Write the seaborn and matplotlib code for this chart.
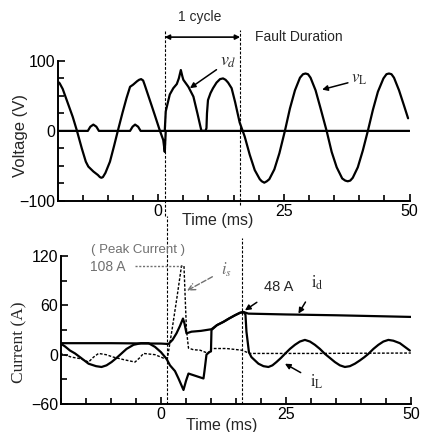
import matplotlib
matplotlib.use("Agg")
import matplotlib.pyplot as plt
from matplotlib.ticker import MultipleLocator
import seaborn as sns

# ---- voltage panel ----
vl_time = [-20.2, -19.6, -19.0, -18.0, -17.0, -16.2, -15.2, -14.4, -13.9, -12.9, -12.0, -11.6,
           -11.3, -11.0, -10.5, -9.6, -8.8, -8.0, -7.1, -6.3, -5.6, -5.0, -4.2, -3.8, -3.4,
           -3.0, -2.7, -2.0, -1.3, -0.7, 0.3, 1.0, 1.3, 1.5, 9.4, 9.6, 9.7, 9.9, 10.4, 10.9,
           11.6, 12.3, 12.9, 13.4, 13.9, 14.6, 15.3, 16.2, 16.7, 17.2, 18.2, 19.2, 20.2, 20.6,
           21.1, 21.6, 22.1, 23.1, 24.1, 25.2, 26.2, 27.2, 28.2, 28.8, 29.3, 29.8, 30.3, 31.3,
           32.3, 33.5, 34.5, 35.5, 36.6, 37.2, 37.7, 38.2, 38.7, 39.7, 40.7, 41.7, 42.7, 43.7,
           44.8, 45.4, 45.9, 46.4, 46.9, 47.9, 48.9, 49.7]
vl_volt = [72, 68, 60, 40, 20, 1, -25, -44, -51, -58, -63, -66,
           -67, -66, -60, -44, -22, 1, 26, 47, 63, 66, 71, 73, 74,
           72, 66, 51, 36, 23, 1, -13, -30, 0, 0, 4, 25, 44, 54, 61,
           69, 74, 75, 73, 69, 61, 41, 12, 2, -8, -34, -56, -69, -72,
           -74, -72, -69, -55, -32, 0, 32, 58, 76, 81, 82, 81, 76, 58,
           32, 0, -30, -52, -68, -71, -72, -71, -67, -52, -28, 0, 30, 56,
           75, 81, 82, 81, 76, 58, 36, 18]

vd_time = [-20.2, -14.0, -13.5, -12.9, -12.3, -11.8, -5.6, -5.1, -4.6, -4.0, -3.5, 1.3,
           1.5, 2.3, 3.0, 3.7, 4.1, 4.5, 4.8, 5.0, 6.0, 7.0, 7.8, 8.4, 8.6, 50.0]
vd_volt = [0, 0, 6, 9, 6, 0, 0, 6, 9, 6, 0, 0,
           28, 52, 61, 67, 75, 87, 78, 73, 63, 49, 25, 6, 0, 0]

# ---- current panel ----
id_time = [-20.2, -10.0, 0.0, 1.5, 2.3, 3.1, 3.8, 4.4, 4.7, 5.1, 6.1, 8.0, 10.1, 11.2,
           12.5, 13.6, 14.8, 15.8, 16.5, 17.5, 25.0, 35.0, 50.0]
id_amp = [14, 14, 13.5, 13, 18, 26, 35, 44, 38, 26, 28, 29, 31, 36,
          40, 44, 48, 51, 52, 50, 49, 48, 46]

il_time = [-20.2, -19.2, -18.2, -17.2, -16.0, -14.5, -13.0, -11.9, -10.9, -9.9, -8.9, -7.9,
           -6.9, -5.5, -4.0, -2.5, -1.2, 0.0, 1.1, 1.8, 2.8, 3.5, 4.0, 4.5, 5.0, 5.5, 6.5,
           7.5, 8.5, 8.7, 9.1, 9.6, 10.0, 10.1, 11.2, 12.5, 13.6, 14.8, 15.8, 16.5, 16.9,
           17.1, 17.6, 18.1, 19.5, 20.5, 21.5, 22.3, 23.1, 24.0, 24.8, 25.8, 26.8, 27.8,
           28.8, 29.8, 30.8, 31.8, 32.8, 33.8, 34.8, 35.8, 36.8, 37.8, 38.8, 39.8, 40.7,
           41.5, 42.5, 43.5, 44.5, 45.5, 46.5, 47.8, 49.8]
il_amp = [14, 10, 5, 1.5, -4, -11, -14, -15, -13, -9, -4, 1.5,
          7, 12, 14, 14, 9.5, 3, -5, -13, -20, -29, -36, -43, -32, -23, -25,
          -27, -29, -20, 0, 3, 4, 30, 36, 40, 44, 48, 51, 52, 49,
          28, 3, -3, -11, -14, -15, -13, -9, -4, 1, 7, 12, 16,
          18, 16, 12, 7, 1, -4, -9, -13, -15, -14, -11, -7, -3,
          1, 7, 12, 16, 18, 17, 14, 5]

is_time = [-20.2, -17.9, -16.0, -14.5, -13.5, -12.5, -11.0, -9.5, -7.5, -5.2, -4.3, -3.5,
           -1.2, 0.8, 1.3, 2.2, 3.2, 4.1, 4.6, 4.9, 5.1, 5.5, 6.5, 7.8, 9.5, 10.1, 13.1,
           16.1, 17.8, 30.0, 50.0]
is_amp = [1.5, -3, -5, -9, -3, 1.5, 0, -3, -6, -9, -4, 1.5,
          0, -5, -4, 30, 70, 108, 108, 60, 30, 8, 6, 5.5, 1.5, 7.5, 7.5,
          5.5, 1.5, 1.5, 2]

fault_start = 1.3
fault_end = 16.3
peak_current = 108

sns.set_style("ticks")
plt.rcParams['font.family'] = ['Liberation Sans', 'DejaVu Sans']
plt.rcParams['mathtext.fontset'] = 'stix'

fig = plt.figure(figsize=(4.24, 4.32), dpi=100)
ax1 = fig.add_axes([0.136, 0.535, 0.830, 0.324])
ax2 = fig.add_axes([0.144, 0.065, 0.825, 0.342])

line_kw = dict(color='black', lw=1.6, sort=False, estimator=None, legend=False)
sns.lineplot(x=vl_time, y=vl_volt, ax=ax1, **line_kw)
sns.lineplot(x=vd_time, y=vd_volt, ax=ax1, **line_kw)

sns.lineplot(x=is_time, y=is_amp, ax=ax2, color='black', lw=1.0, linestyle=(0, (2, 1.2)),
             sort=False, estimator=None, legend=False)
sns.lineplot(x=id_time, y=id_amp, ax=ax2, **line_kw)
sns.lineplot(x=il_time, y=il_amp, ax=ax2, **line_kw)

for ax in (ax1, ax2):
    ax.set_xlim(-20, 50)
    ax.set_xticks([0, 25, 50])
    ax.xaxis.set_minor_locator(MultipleLocator(5))
    for side in ('top', 'right'):
        ax.spines[side].set_visible(False)
    for side in ('left', 'bottom'):
        ax.spines[side].set_linewidth(1.4)
        ax.spines[side].set_color('black')
    ax.tick_params(which='both', direction='in', colors='black', labelsize=11.5, width=1.2, pad=2)
    ax.tick_params(which='major', length=5)
    ax.tick_params(which='minor', length=4)

ax1.set_ylim(-100, 100)
ax1.set_yticks([-100, 0, 100])
ax1.yaxis.set_minor_locator(MultipleLocator(25))
ax2.set_ylim(-60, 120)
ax2.set_yticks([-60, 0, 60, 120])
ax2.yaxis.set_minor_locator(MultipleLocator(30))

ax1.set_xlabel('Time (ms)', fontsize=11.5)
ax1.xaxis.set_label_coords(0.455, -0.09)
ax1.set_ylabel('Voltage (V)', fontsize=12)
ax1.yaxis.set_label_coords(-0.085, 0.47)
ax2.set_xlabel('Time (ms)', fontsize=11.5)
ax2.xaxis.set_label_coords(0.46, -0.095)
ax2.set_ylabel('Current (A)', fontsize=12.5, family=['Liberation Serif', 'DejaVu Serif'])
ax2.yaxis.set_label_coords(-0.095, 0.42)

# fault boundaries
dash = dict(color='black', lw=0.8, linestyle=(0, (2.5, 1.5)), clip_on=False)
ax1.axvline(fault_start, -0.11, 1.22, **dash)
ax1.axvline(fault_end, -0.03, 1.22, **dash)
ax2.axvline(fault_start, 0, 1.27, **dash)
ax2.axvline(fault_end, 0, 1.12, **dash)

# top annotations
ax1.annotate('', xy=(fault_start, 134), xytext=(fault_end, 134), annotation_clip=False,
             arrowprops=dict(arrowstyle='<|-|>', color='black', lw=1.2,
                             mutation_scale=7, shrinkA=0, shrinkB=0))
ax1.text(8.3, 163, '1 cycle', fontsize=10, ha='center', va='center')
ax1.text(19.3, 134, 'Fault Duration', fontsize=10, ha='left', va='center')
arrow = dict(arrowstyle='-|>', color='black', lw=1.1, mutation_scale=8, shrinkA=0, shrinkB=0)
ax1.annotate('$v_d$', xy=(6.3, 61), xytext=(13.9, 99), fontsize=13, ha='center', va='center',
             arrowprops=arrow)
ax1.annotate(r'$v_{\mathrm{L}}$', xy=(32.6, 59), xytext=(40.0, 73), fontsize=12,
             ha='center', va='center', arrowprops=arrow)

# bottom annotations
gray = '#707070'
ax2.text(-4.6, 127, '( Peak Current )', fontsize=9.5, color=gray, ha='center', va='center',
         clip_on=False)
ax2.text(-10.6, 106.5, f'{peak_current} A', fontsize=10, color=gray, ha='center', va='center')
ax2.plot([-5.2, 4.1], [peak_current, peak_current], color=gray, lw=1.0, linestyle=(0, (1.5, 1.2)))
ax2.annotate('$i_s$', xy=(5.2, 78), xytext=(13.0, 104), fontsize=12, color=gray,
             ha='center', va='center',
             arrowprops=dict(arrowstyle='->', color=gray, lw=1.0, linestyle='--',
                             shrinkA=4, shrinkB=0))
ax2.annotate('48 A', xy=(16.8, 54), xytext=(23.6, 82), fontsize=10.5, ha='center', va='center',
             arrowprops=dict(arrow, shrinkA=6))
ax2.annotate(r'$\mathrm{i_d}$', xy=(27.5, 50), xytext=(31.3, 88), fontsize=12,
             ha='center', va='center', arrowprops=dict(arrow, shrinkA=6))
ax2.annotate(r'$\mathrm{i_L}$', xy=(24.8, -11), xytext=(31.2, -33), fontsize=12,
             ha='center', va='center', arrowprops=dict(arrow, shrinkA=5))

fig.savefig('out.png', dpi=100)
